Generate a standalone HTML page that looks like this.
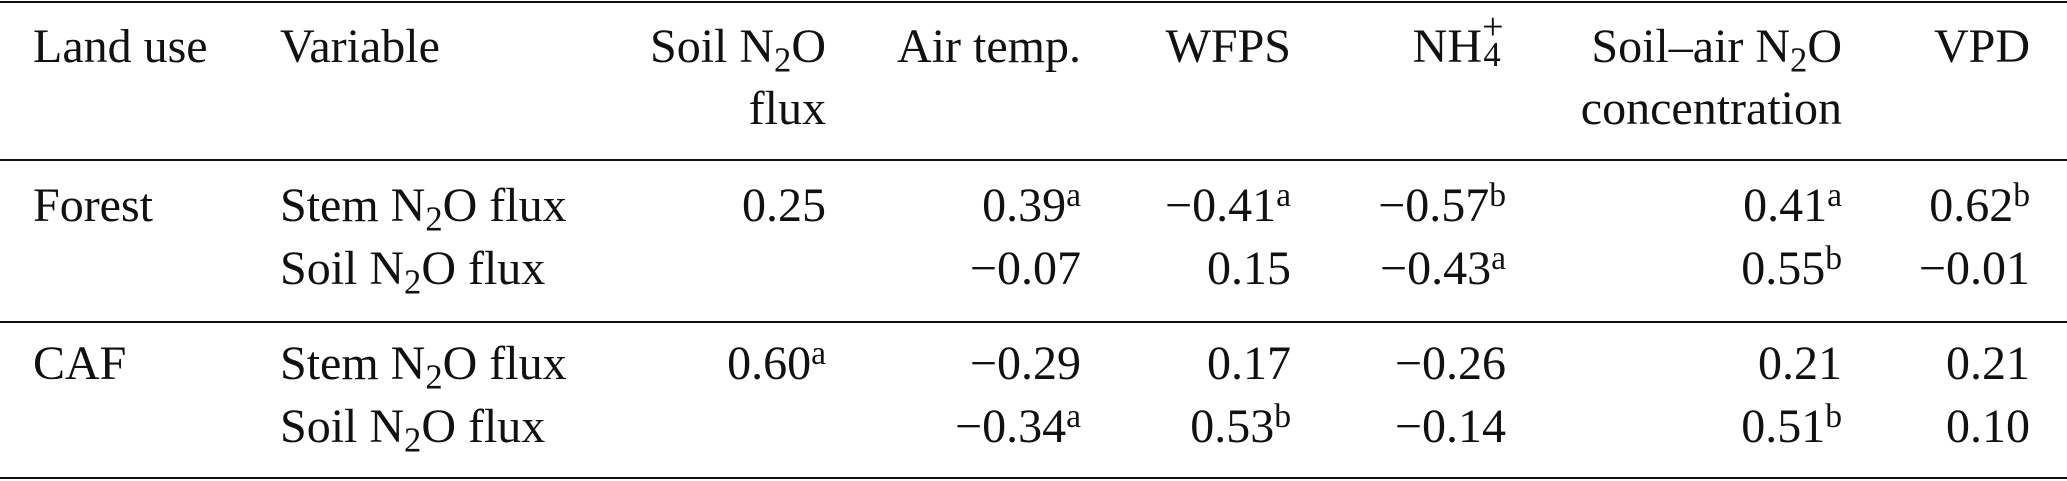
<!DOCTYPE html>
<html><head><meta charset="utf-8"><style>
html,body{margin:0;padding:0;background:#fff;}
body{width:2067px;height:481px;position:relative;overflow:hidden;font-family:"Liberation Serif","Times New Roman",serif;font-size:48px;color:#111;}
.t{position:absolute;line-height:48px;white-space:nowrap;}
.r{text-align:right;}
.hl{position:absolute;left:0;width:2067px;height:2px;background:#111;}
sub{font-size:0.72em;vertical-align:-0.28em;line-height:0;}
sup{font-size:0.7em;vertical-align:0.45em;line-height:0;}
</style></head><body>
<div class="hl" style="top:1px"></div>
<div class="hl" style="top:159px"></div>
<div class="hl" style="top:321px"></div>
<div class="hl" style="top:477px"></div>

<div class="t" style="left:33px;top:23px">Land use</div>
<div class="t" style="left:280px;top:23px">Variable</div>
<div class="t r" style="right:1241px;top:23px">Soil N<sub>2</sub>O</div>
<div class="t r" style="right:1241px;top:85px">flux</div>
<div class="t r" style="right:986px;top:23px">Air temp.</div>
<div class="t r" style="right:776px;top:23px">WFPS</div>
<div class="t r" style="right:561px;top:23px">NH<span style="display:inline-block;position:relative;width:0.5em;height:1em;vertical-align:top;"><span style="position:absolute;left:0;top:-0.4em;font-size:0.8em;line-height:1">+</span><span style="position:absolute;left:0.04em;top:0.42em;font-size:0.72em;line-height:1">4</span></span></div>
<div class="t r" style="right:225px;top:23px">Soil–air N<sub>2</sub>O</div>
<div class="t r" style="right:225px;top:85px">concentration</div>
<div class="t r" style="right:37px;top:23px">VPD</div>

<div class="t" style="left:33px;top:182px">Forest</div>
<div class="t" style="left:280px;top:182px">Stem N<sub>2</sub>O flux</div>
<div class="t r" style="right:1241px;top:182px">0.25</div>
<div class="t r" style="right:986px;top:182px">0.39<sup>a</sup></div>
<div class="t r" style="right:776px;top:182px">−0.41<sup>a</sup></div>
<div class="t r" style="right:561px;top:182px">−0.57<sup>b</sup></div>
<div class="t r" style="right:225px;top:182px">0.41<sup>a</sup></div>
<div class="t r" style="right:37px;top:182px">0.62<sup>b</sup></div>

<div class="t" style="left:280px;top:245px">Soil N<sub>2</sub>O flux</div>
<div class="t r" style="right:986px;top:245px">−0.07</div>
<div class="t r" style="right:776px;top:245px">0.15</div>
<div class="t r" style="right:561px;top:245px">−0.43<sup>a</sup></div>
<div class="t r" style="right:225px;top:245px">0.55<sup>b</sup></div>
<div class="t r" style="right:37px;top:245px">−0.01</div>

<div class="t" style="left:33px;top:340px">CAF</div>
<div class="t" style="left:280px;top:340px">Stem N<sub>2</sub>O flux</div>
<div class="t r" style="right:1241px;top:340px">0.60<sup>a</sup></div>
<div class="t r" style="right:986px;top:340px">−0.29</div>
<div class="t r" style="right:776px;top:340px">0.17</div>
<div class="t r" style="right:561px;top:340px">−0.26</div>
<div class="t r" style="right:225px;top:340px">0.21</div>
<div class="t r" style="right:37px;top:340px">0.21</div>

<div class="t" style="left:280px;top:403px">Soil N<sub>2</sub>O flux</div>
<div class="t r" style="right:986px;top:403px">−0.34<sup>a</sup></div>
<div class="t r" style="right:776px;top:403px">0.53<sup>b</sup></div>
<div class="t r" style="right:561px;top:403px">−0.14</div>
<div class="t r" style="right:225px;top:403px">0.51<sup>b</sup></div>
<div class="t r" style="right:37px;top:403px">0.10</div>
</body></html>
